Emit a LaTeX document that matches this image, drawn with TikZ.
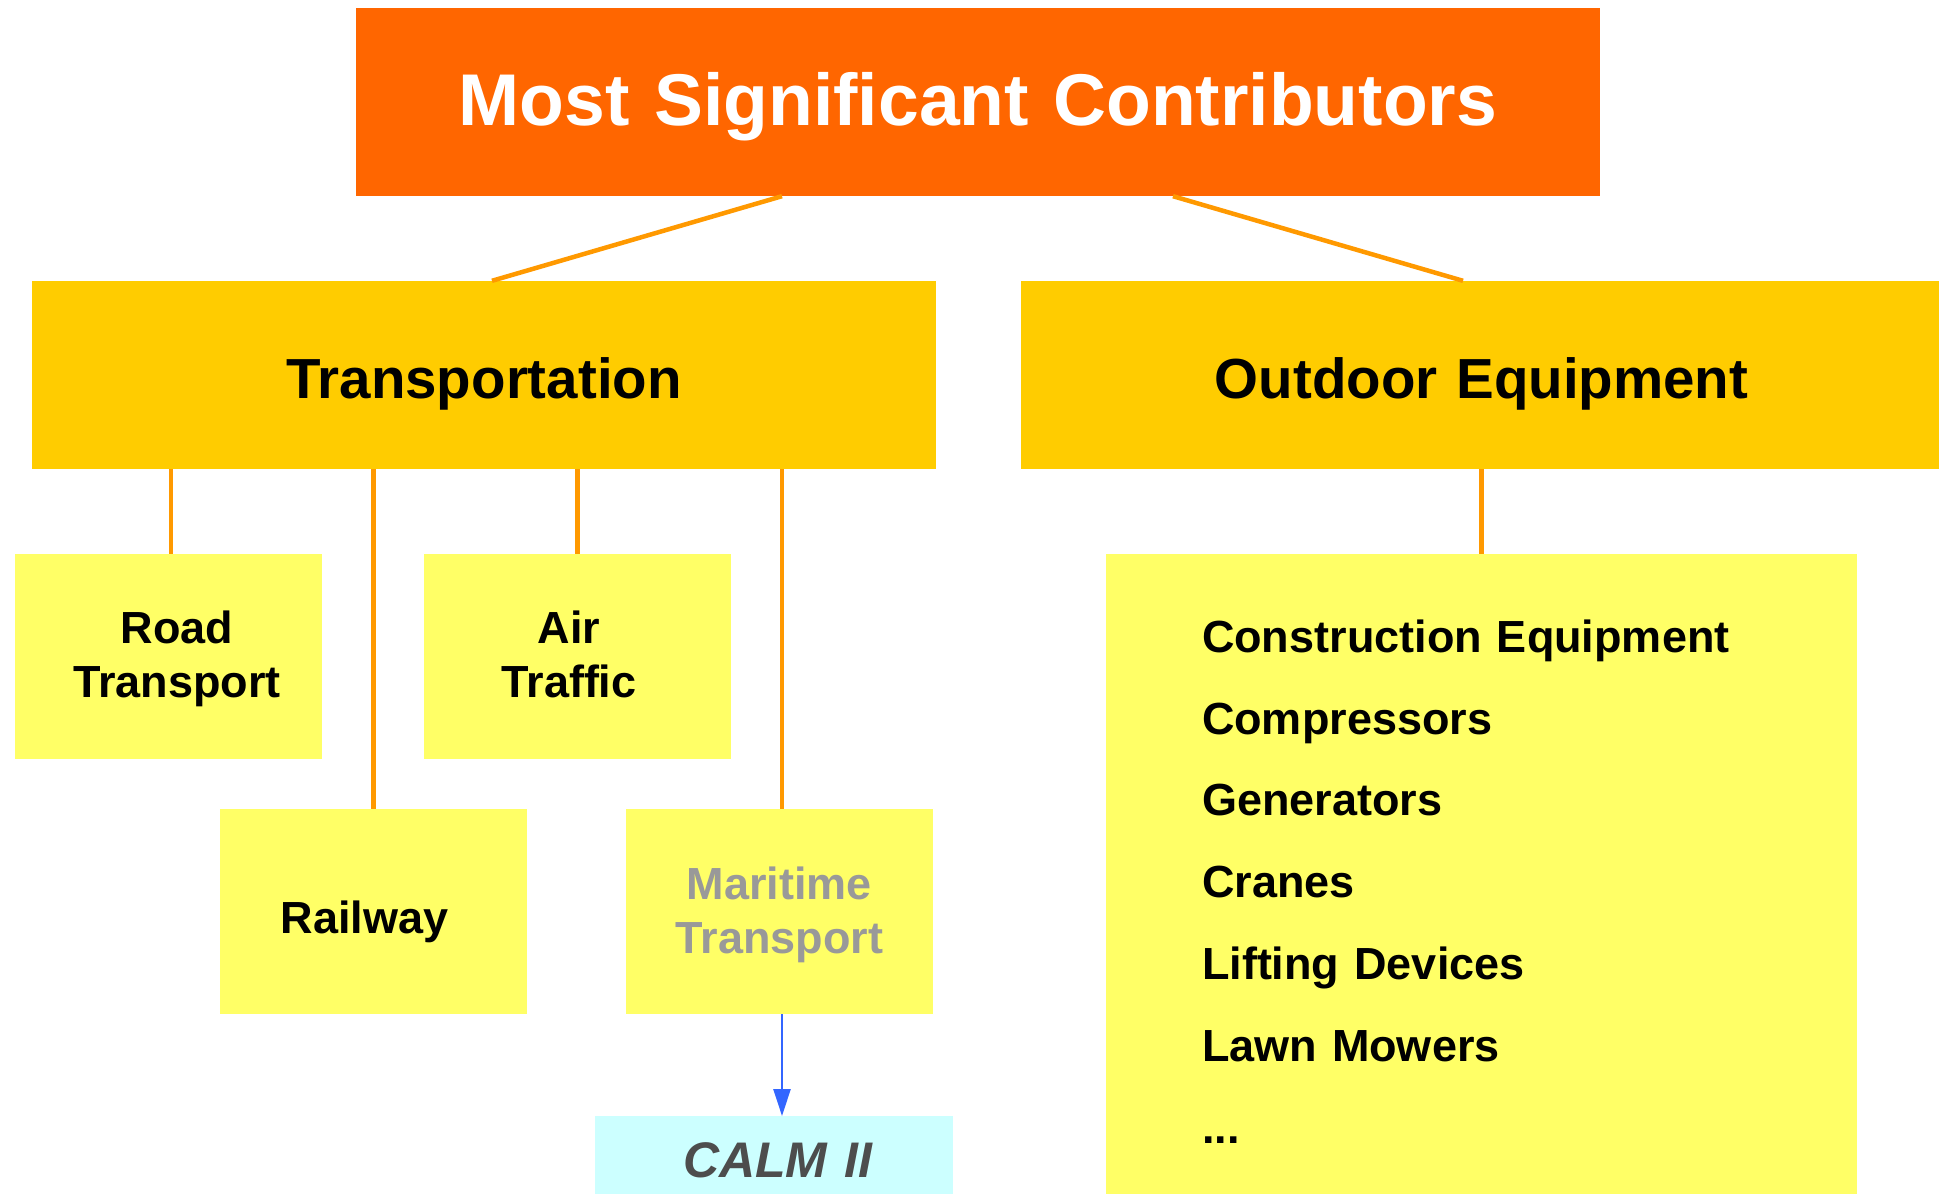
\documentclass[tikz,border=0pt]{standalone}
\usepackage{fontspec}
\setmainfont{Liberation Sans}
\usetikzlibrary{arrows.meta}

\definecolor{rootfill}{HTML}{FF6600}
\definecolor{groupfill}{HTML}{FFCC00}
\definecolor{leaffill}{HTML}{FFFF66}
\definecolor{calmfill}{HTML}{CCFFFF}
\definecolor{linkorange}{HTML}{FF9900}
\definecolor{linkblue}{HTML}{3366FF}
\definecolor{mutedtext}{HTML}{999999}
\definecolor{darktext}{HTML}{4D4D4D}

\begin{document}
\begin{tikzpicture}[x=1pt, y=-1pt,
  box/.style={rectangle, draw=none, inner sep=0pt, align=center},
  rootbox/.style={box, fill=rootfill, text=white,
    font=\bfseries\fontsize{73.3}{80}\selectfont},
  groupbox/.style={box, fill=groupfill, text=black,
    font=\bfseries\fontsize{56.5}{64}\selectfont},
  leafbox/.style={box, fill=leaffill, text=black, text width=307pt,
    font=\bfseries\fontsize{45}{54}\selectfont},
  listbox/.style={box, fill=leaffill, text=black, align=left,
    font=\bfseries\fontsize{45}{81.8}\selectfont},
  calmbox/.style={box, fill=calmfill, text=darktext,
    font=\bfseries\itshape\fontsize{50}{56}\selectfont},
  link/.style={draw=linkorange, line width=4.5pt},
  flow/.style={draw=linkblue, line width=2.7pt,
    -{Triangle[length=27pt, width=17pt]}}
]
\useasboundingbox (0,0) rectangle (1939,1194);
\fill[white] (0,0) rectangle (1939,1194);

% top level
\node[rootbox, text width=1244pt, text height=117pt, text depth=71pt]
  (root) at (978,102) {Most Significant Contributors};

% the two groups
\node[groupbox, text width=904pt, text height=117pt, text depth=71pt]
  (trans) at (484,375) {Transportation};
\node[groupbox, text width=921pt, text height=117pt, text depth=71pt]
  (outdoor) at (1481.5,375) {Outdoor Equipment};

% transport modes
\node[leafbox, text height=89pt, text depth=116pt]
  (road) at (168.5,656.5) {\hspace*{17pt}Road\\\hspace*{17pt}Transport};
\node[leafbox, text height=89pt, text depth=116pt]
  (air) at (577.5,656.5) {Air\kern17pt\\Traffic\kern17pt};
\node[leafbox, text height=124pt, text depth=81pt]
  (rail) at (373.5,911.5) {Railway\kern18pt};
\node[leafbox, text=mutedtext, text height=90pt, text depth=115pt]
  (sea) at (779.5,911.5) {Maritime\\Transport};

% regulation box below maritime transport
\node[calmbox, anchor=north, text width=358pt, text height=61pt, text depth=63pt]
  (calm) at (774,1116) {\hspace*{7pt}CALM II};

% outdoor equipment list
\node[listbox, anchor=north, text width=559pt, inner xsep=96pt,
  text height=98pt, text depth=588pt]
  (equip) at (1481.5,554)
  {Construction Equipment\\Compressors\\Generators\\Cranes\\
   Lifting Devices\\Lawn Mowers\\...};

% connectors
\draw[link] ([xshift=-196pt]root.south) -- ([xshift=8pt]trans.north);
\draw[link] ([xshift=195pt]root.south) -- ([xshift=-18.5pt]outdoor.north);
\draw[link] ([xshift=2.5pt]road.north) -- ([xshift=2.5pt]road.north |- trans.south);
\draw[link] (rail.north) -- (rail.north |- trans.south);
\draw[link] (air.north) -- (air.north |- trans.south);
\draw[link] ([xshift=2.5pt]sea.north) -- ([xshift=2.5pt]sea.north |- trans.south);
\draw[link] (equip.north) -- (equip.north |- outdoor.south);
\draw[flow] ([xshift=2.5pt]sea.south) -- ([xshift=2.5pt]sea.south |- calm.north);
\end{tikzpicture}
\end{document}
